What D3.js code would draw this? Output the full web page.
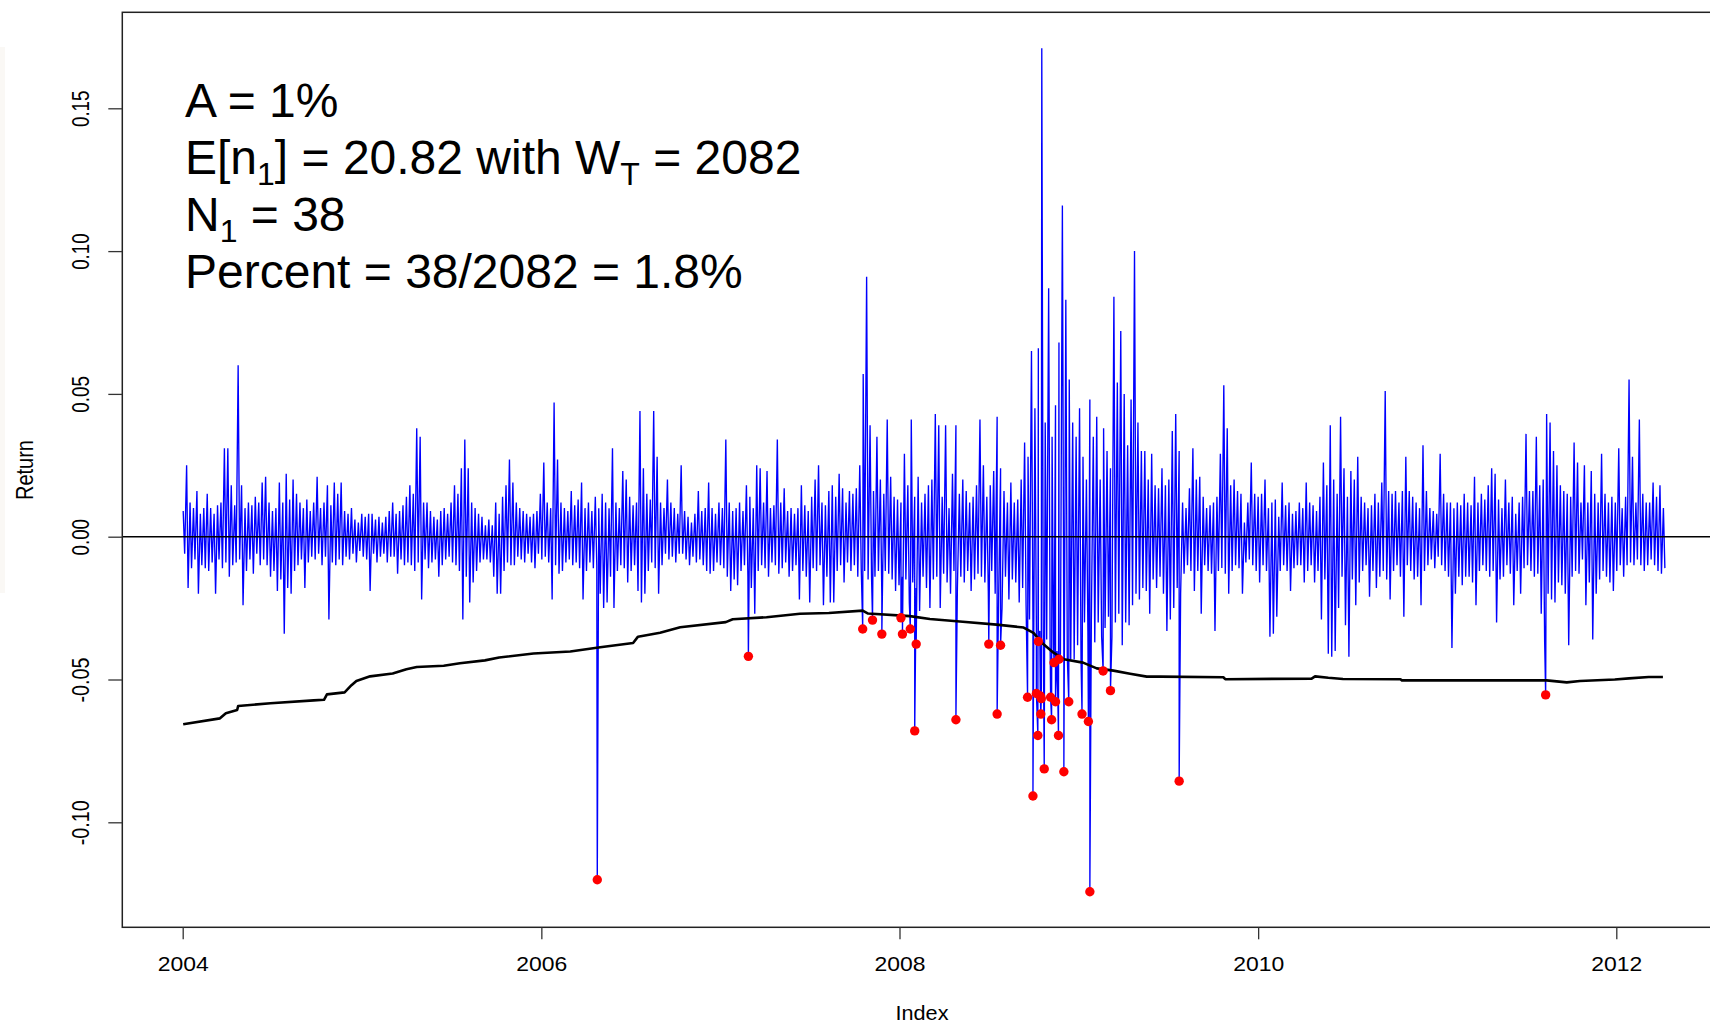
<!DOCTYPE html>
<html>
<head>
<meta charset="utf-8">
<title>Return and VaR exceedances</title>
<script src="https://cdn.jsdelivr.net/npm/d3@7"></script>
<style>
  body { margin: 0; background: #fff; }
  svg { display: block; }
  text { font-family: Arial, "Liberation Sans", sans-serif; fill: #000; }
</style>
</head>
<body>
<svg id="chart" width="1710" height="1024"></svg>
<script>
// weekly highest and lowest daily return (thousandths), one entry per week from 2004-01-02
const weekHigh = [
  9,25,12,10,16,8,10,15,10,8,      11,12,31,31,18,11,60,18,10,12,
  11,14,12,19,21,12,9,10,19,12,    22,13,20,15,12,10,13,9,12,21,
  10,12,18,11,19,15,19,9,8,10,     6,5,8,7,8,8,6,7,5,7,
  9,12,8,9,11,14,18,15,38,35,      12,12,9,7,6,9,10,8,12,18,
  15,24,34,24,12,10,8,7,4,6,       4,12,8,14,18,27,19,12,10,9,
  8,7,8,9,15,26,12,10,47,27,       12,10,9,16,11,13,19,10,12,9,
  14,10,15,12,10,31,12,10,23,20,   14,11,12,44,24,15,13,44,28,12,
  10,20,12,10,8,25,9,7,5,8,        16,9,10,19,10,8,12,10,34,12,
  9,10,12,9,18,14,10,25,24,12,     23,10,11,34,12,17,9,10,8,10,
  18,11,9,14,20,25,12,11,16,18,    14,22,17,12,16,15,17,25,57,91,
  39,16,35,20,15,41,21,14,13,12,   29,18,41,14,21,12,15,18,20,43,
  39,14,39,10,22,39,15,20,16,12,   14,18,41,25,14,18,23,42,24,16,
  12,19,12,13,20,33,28,65,45,66,   171,40,87,35,46,68,116,83,55,40,
  35,45,28,20,48,35,42,20,38,30,   24,84,54,72,50,32,48,100,40,30,
  30,20,29,18,17,24,18,20,37,43,   30,12,10,17,31,20,21,14,10,11,
  12,14,29,53,38,18,20,16,15,5,    12,26,15,14,15,20,10,12,13,7,
  19,11,12,8,9,12,10,19,12,11,     9,14,26,18,39,20,15,42,24,14,
  23,20,28,14,12,10,11,15,12,19,   51,16,15,16,12,16,28,16,14,12,
  10,32,16,10,9,8,29,15,12,12,     10,12,11,15,12,11,21,12,15,13,
  18,24,22,13,10,20,12,14,8,12,    14,36,16,16,35,18,20,43,40,30,
  25,18,16,15,14,33,26,12,25,12,   23,15,12,29,15,12,14,12,31,10,
  14,55,28,12,41,15,12,12,19,14,   18,10
];
const weekLow = [
  -6,-18,-11,-8,-20,-10,-11,-12,-9,-20,      -8,-11,-9,-14,-10,-9,-8,-24,-12,-8,
  -13,-6,-10,-8,-10,-14,-12,-19,-15,-34,     -18,-20,-12,-10,-8,-18,-9,-7,-8,-6,
  -10,-7,-29,-9,-10,-8,-10,-7,-8,-6,         -9,-5,-7,-8,-19,-6,-9,-7,-6,-9,
  -7,-7,-13,-8,-10,-9,-10,-12,-9,-22,        -8,-11,-9,-8,-14,-10,-8,-7,-9,-10,
  -12,-29,-14,-23,-16,-12,-9,-8,-8,-9,       -14,-20,-20,-12,-9,-10,-10,-7,-8,-9,
  -6,-9,-11,-6,-8,-7,-9,-22,-10,-13,         -12,-9,-8,-10,-9,-11,-22,-12,-9,-11,
  -10,-20,-25,-23,-14,-25,-12,-10,-11,-16,   -12,-10,-19,-23,-20,-12,-9,-11,-20,-10,
  -6,-8,-7,-9,-6,-6,-8,-10,-7,-9,            -8,-10,-12,-13,-12,-9,-10,-11,-14,-19,
  -15,-17,-12,-10,-14,-18,-27,-12,-10,-11,   -14,-9,-10,-13,-11,-9,-14,-12,-10,-22,
  -12,-14,-23,-11,-12,-10,-24,-14,-23,-23,   -12,-10,-16,-9,-12,-10,-14,-11,-12,-15,
  -14,-14,-12,-21,-12,-13,-15,-19,-17,-14,   -15,-23,-16,-18,-26,-14,-18,-25,-15,-14,
  -25,-13,-16,-20,-12,-18,-14,-16,-12,-19,   -15,-13,-14,-16,-19,-12,-20,-22,-25,-14,
  -22,-15,-16,-23,-18,-24,-29,-30,-32,-33,   -35,-36,-38,-39,-40,-41,-42,-42,-43,-43,
  -38,-43,-30,-33,-30,-37,-30,-35,-32,-28,   -35,-30,-27,-38,-30,-31,-24,-20,-22,-18,
  -19,-27,-15,-18,-14,-20,-33,-29,-25,-18,   -20,-13,-10,-12,-19,-12,-27,-10,-12,-13,
  -33,-12,-11,-13,-20,-12,-10,-11,-20,-9,    -8,-10,-12,-16,-10,-12,-35,-34,-28,-12,
  -10,-12,-19,-11,-10,-10,-16,-12,-10,-16,   -12,-29,-15,-41,-42,-40,-25,-14,-31,-42,
  -15,-24,-16,-12,-10,-21,-12,-18,-14,-12,   -15,-22,-12,-10,-14,-28,-10,-12,-15,-14,
  -24,-12,-10,-8,-11,-7,-10,-12,-14,-39,     -20,-14,-17,-14,-14,-16,-24,-12,-10,-12,
  -14,-12,-30,-15,-14,-10,-13,-24,-12,-20,   -11,-10,-12,-14,-13,-27,-37,-20,-22,-23,
  -16,-17,-20,-38,-14,-12,-13,-8,-24,-16,    -36,-20,-15,-12,-14,-16,-19,-12,-10,-14,
  -10,-9,-10,-8,-10,-12,-10,-8,-10,-12,      -13,-11
];

// days where the return fell below the VaR line (red points)
const breachDates = [
  "2006-04-25","2007-02-27","2007-10-18","2007-11-07","2007-11-26","2008-01-04","2008-01-07",
  "2008-01-23","2008-02-01","2008-02-04","2008-04-25","2008-07-01","2008-07-18","2008-07-25",
  "2008-09-18","2008-09-29","2008-10-06","2008-10-09","2008-10-10","2008-10-14","2008-10-15",
  "2008-10-16","2008-10-22","2008-11-04","2008-11-06","2008-11-11","2008-11-14","2008-11-20",
  "2008-11-21","2008-12-01","2008-12-11","2009-01-07","2009-01-20","2009-01-23","2009-02-19",
  "2009-03-06","2009-07-24","2011-08-10"
];
const breachReturns = [
  -0.1201,-0.0419,-0.0323,-0.0292,-0.0341,-0.0284,-0.0341,
  -0.0323,-0.0680,-0.0376,-0.0641,-0.0376,-0.0621,-0.0380,
  -0.0562,-0.0908,-0.0549,-0.0696,-0.0367,-0.0558,-0.0621,
  -0.0567,-0.0813,-0.0562,-0.0641,-0.0441,-0.0578,-0.0696,
  -0.0429,-0.0823,-0.0578,-0.0621,-0.0647,-0.1243,-0.0470,
  -0.0539,-0.0856,-0.0554
];

// VaR estimate (black line)
const varDates = [
  "2004-01-02","2004-03-17","2004-03-29","2004-04-21","2004-04-23","2004-06-28","2004-09-24",
  "2004-10-15","2004-10-21","2004-11-26","2004-12-10","2004-12-20","2005-01-17","2005-03-04",
  "2005-04-01","2005-04-22","2005-06-16","2005-07-19","2005-09-08","2005-10-07","2005-12-16",
  "2006-03-01","2006-05-01","2006-07-07","2006-07-17","2006-08-31","2006-10-11","2007-01-12",
  "2007-01-26","2007-04-05","2007-06-12","2007-08-10","2007-10-18","2007-10-29","2008-01-22",
  "2008-03-03","2008-05-09","2008-07-17","2008-09-10","2008-09-30","2008-10-20","2008-11-10",
  "2008-12-01","2009-01-09","2009-02-06","2009-03-12","2009-04-15","2009-05-19","2009-06-16",
  "2009-10-22","2009-10-26","2010-04-20","2010-04-27","2010-05-24","2010-06-23","2010-10-18",
  "2010-10-21","2011-02-16","2011-08-12","2011-09-22","2011-10-19","2011-12-29","2012-01-27",
  "2012-03-07","2012-04-05"
];
const varValues = [
  -0.0657,-0.0636,-0.0618,-0.0607,-0.0593,-0.0583,-0.0573,
  -0.0571,-0.0552,-0.0545,-0.0520,-0.0505,-0.0489,-0.0479,
  -0.0464,-0.0456,-0.0452,-0.0443,-0.0433,-0.0423,-0.0409,
  -0.0402,-0.0387,-0.0372,-0.0350,-0.0336,-0.0317,-0.0299,
  -0.0289,-0.0282,-0.0270,-0.0267,-0.0259,-0.0269,-0.0278,
  -0.0288,-0.0298,-0.0308,-0.0318,-0.0337,-0.0376,-0.0406,
  -0.0429,-0.0441,-0.0461,-0.0469,-0.0480,-0.0490,-0.0490,
  -0.0492,-0.0499,-0.0497,-0.0489,-0.0494,-0.0498,-0.0499,
  -0.0503,-0.0503,-0.0503,-0.0510,-0.0505,-0.0500,-0.0496,
  -0.0491,-0.0491
];

const yTicks = [-0.10, -0.05, 0.00, 0.05, 0.10, 0.15];
const xTickYears = [2004, 2006, 2008, 2010, 2012];

const noteLines = [
  [{t: "A = 1%"}],
  [{t: "E[n"}, {t: "1", sub: true}, {t: "] = 20.82 with W"}, {t: "T", sub: true}, {t: " = 2082"}],
  [{t: "N"}, {t: "1", sub: true}, {t: " = 38"}],
  [{t: "Percent = 38/2082 = 1.8%"}]
];

const box = {left: 122.3, top: 12.3, bottom: 927.3, right: 1730};

const svg = d3.select("#chart");
const parse = d3.timeParse("%Y-%m-%d");

const x = d3.scaleTime()
  .domain([new Date(2004, 0, 1), new Date(2012, 0, 1)])
  .range([182.7, 1616.3]);
const y = d3.scaleLinear()
  .domain([-0.10, 0.15])
  .range([822.3, 108.3]);

// faint strip at the left edge of the scan
svg.append("rect")
  .attr("x", 0).attr("y", 47).attr("width", 5).attr("height", 546)
  .attr("fill", "#faf8f5");

svg.append("clipPath").attr("id", "plotclip")
  .append("rect")
    .attr("x", box.left).attr("y", box.top)
    .attr("width", box.right - box.left).attr("height", box.bottom - box.top);

const plot = svg.append("g").attr("clip-path", "url(#plotclip)");

// build the return series: weekly high / low plus the breach days, in time order
const start = parse("2004-01-02");
let pts = [];
weekHigh.forEach((h, i) => {
  pts.push({date: d3.timeDay.offset(start, 7 * i), v: h / 1000});
  pts.push({date: d3.timeDay.offset(start, 7 * i + 3), v: weekLow[i] / 1000});
});
const breaches = breachDates.map((d, i) => ({date: parse(d), v: breachReturns[i]}));
pts = pts.concat(breaches).sort((a, b) => a.date - b.date);

plot.append("path")
  .datum(pts)
  .attr("fill", "none")
  .attr("stroke", "#0000ff")
  .attr("stroke-width", 1.35)
  .attr("d", d3.line().x(d => x(d.date)).y(d => y(d.v)));

// zero line
plot.append("line")
  .attr("x1", box.left).attr("x2", box.right)
  .attr("y1", y(0)).attr("y2", y(0))
  .attr("stroke", "#000").attr("stroke-width", 1.5);

// VaR line
const varPts = varDates.map((d, i) => ({date: parse(d), v: varValues[i]}));
plot.append("path")
  .datum(varPts)
  .attr("fill", "none")
  .attr("stroke", "#000")
  .attr("stroke-width", 2.6)
  .attr("stroke-linejoin", "round")
  .attr("d", d3.line().x(d => x(d.date)).y(d => y(d.v)));

// breach points
plot.selectAll("circle.breach")
  .data(breaches)
  .join("circle")
    .attr("class", "breach")
    .attr("cx", d => x(d.date))
    .attr("cy", d => y(d.v))
    .attr("r", 4.7)
    .attr("fill", "#ff0000");

// frame
svg.append("rect")
  .attr("x", box.left).attr("y", box.top)
  .attr("width", box.right - box.left).attr("height", box.bottom - box.top)
  .attr("fill", "none").attr("stroke", "#222").attr("stroke-width", 1.5);

// y axis
const yAxis = svg.append("g")
  .attr("transform", `translate(${box.left},0)`)
  .call(d3.axisLeft(y).tickValues(yTicks).tickSize(14).tickFormat(d => d.toFixed(2)));
yAxis.select(".domain").remove();
yAxis.selectAll(".tick line").attr("stroke", "#333").attr("stroke-width", 1.3);
yAxis.selectAll(".tick text")
  .attr("transform", "rotate(-90)")
  .attr("x", 0).attr("y", -(box.left - 89)).attr("dy", 0)
  .attr("text-anchor", "middle")
  .attr("font-family", "Arial, 'Liberation Sans', sans-serif")
  .attr("font-size", 23)
  .attr("fill", "#1a1a1a")
  .attr("textLength", d => d < 0 ? 45 : 36.5)
  .attr("lengthAdjust", "spacingAndGlyphs");

// x axis
const xAxis = svg.append("g")
  .attr("transform", `translate(0,${box.bottom})`)
  .call(d3.axisBottom(x)
    .tickValues(xTickYears.map(yr => new Date(yr, 0, 1)))
    .tickSize(12)
    .tickFormat(d3.timeFormat("%Y")));
xAxis.select(".domain").remove();
xAxis.selectAll(".tick line").attr("stroke", "#333").attr("stroke-width", 1.3);
xAxis.selectAll(".tick text")
  .attr("y", 44).attr("dy", 0)
  .attr("font-family", "Arial, 'Liberation Sans', sans-serif")
  .attr("font-size", 21)
  .attr("fill", "#1a1a1a")
  .attr("textLength", 51)
  .attr("lengthAdjust", "spacingAndGlyphs");

// axis titles
svg.append("text")
  .attr("x", 922).attr("y", 1020)
  .attr("text-anchor", "middle")
  .attr("font-size", 21)
  .attr("fill", "#1a1a1a")
  .attr("textLength", 53).attr("lengthAdjust", "spacingAndGlyphs")
  .text("Index");
svg.append("text")
  .attr("transform", "translate(33.3,470) rotate(-90)")
  .attr("text-anchor", "middle")
  .attr("font-size", 23)
  .attr("fill", "#1a1a1a")
  .attr("textLength", 60).attr("lengthAdjust", "spacingAndGlyphs")
  .text("Return");

// annotation block
noteLines.forEach((parts, i) => {
  const t = svg.append("text")
    .attr("x", 185)
    .attr("y", 117 + i * 57)
    .attr("font-size", 48);
  let shifted = false;
  parts.forEach(p => {
    const sp = t.append("tspan").text(p.t);
    if (p.sub) {
      sp.attr("font-size", 32).attr("dy", shifted ? 0 : 11);
      shifted = true;
    } else if (shifted) {
      sp.attr("dy", -11);
      shifted = false;
    }
  });
});
</script>
</body>
</html>
